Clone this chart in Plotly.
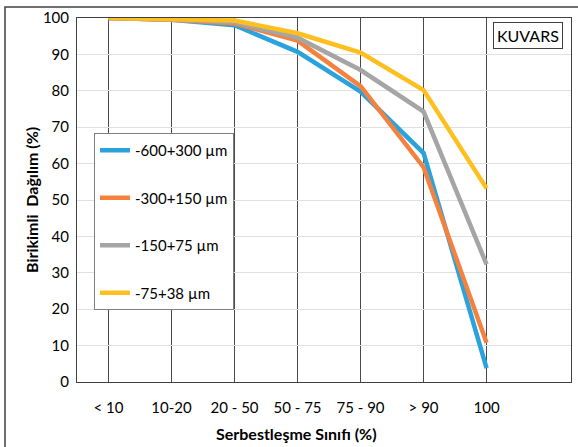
import plotly.graph_objects as go

categories = ["< 10", "10-20", "20 - 50", "50 - 75", "75 - 90", "> 90", "100"]
s1_name = "-600+300 µm"
s1 = [100, 99.5, 98.0, 90.7, 79.8, 62.9, 3.8]
s2_name = "-300+150 µm"
s2 = [100, 99.5, 98.5, 93.8, 81.3, 59.0, 10.8]
s3_name = "-150+75 µm"
s3 = [100, 99.6, 98.8, 94.6, 85.7, 74.3, 32.3]
s4_name = "-75+38 µm"
s4 = [100, 99.8, 99.3, 95.8, 90.5, 80.2, 53.2]
colors = ["#2aa3dc", "#f5813f", "#a5a5a5", "#ffbf1f"]
yticks = [0, 10, 20, 30, 40, 50, 60, 70, 80, 90, 100]

FONT = "Lato"
fig = go.Figure()
for i, (name, vals) in enumerate([(s1_name, s1), (s2_name, s2), (s3_name, s3), (s4_name, s4)]):
    fig.add_trace(go.Scatter(x=categories, y=vals, mode="lines", name=name,
                             legendgroup=str(i),
                             line=dict(color=colors[i], width=4.5)))

L, R, T, B = 77, 7, 18, 65
W, H = 578, 447
pw, ph = W - L - R, H - T - B

def px(x):
    return (x - L) / pw

def py(y):
    return (H - B - y) / ph

fig.update_layout(
    width=W, height=H,
    margin=dict(l=L, r=R, t=T, b=B, autoexpand=False),
    paper_bgcolor="white", plot_bgcolor="white",
    font=dict(family=FONT, size=14, color="black"),
    showlegend=True,
    legend=dict(x=px(94), y=py(133), xanchor="left", yanchor="top",
                bgcolor="white", bordercolor="#7f7f7f", borderwidth=1,
                font=dict(family=FONT, size=15), tracegroupgap=25,
                itemwidth=30),
    xaxis=dict(type="category", range=[-0.5, 7.34], showgrid=True, gridcolor="#4a4a4a",
               gridwidth=1, showline=True, linecolor="#404040", linewidth=1, mirror=True,
               ticks="", tickfont=dict(family=FONT, size=15), automargin=False,
               ticklabelstandoff=12),
    yaxis=dict(range=[0, 100], tickvals=yticks, showgrid=True, gridcolor="#e0e0e0",
               showline=True, linecolor="#404040", linewidth=1, mirror=True,
               ticks="", ticklen=0, tickfont=dict(family=FONT, size=15),
               zeroline=False, automargin=False, ticklabelstandoff=4),
    shapes=[dict(type="rect", xref="paper", yref="paper",
                 x0=px(5), x1=px(W + 5), y0=py(H + 10), y1=py(7),
                 line=dict(color="#404040", width=1.5), fillcolor="rgba(0,0,0,0)", layer="below")],
    annotations=[
        dict(text="KUVARS", xref="paper", yref="paper",
             x=px(493), y=py(22), xanchor="left", yanchor="top",
             showarrow=False, font=dict(family=FONT, size=16),
             bordercolor="#404040", borderwidth=1, borderpad=3, bgcolor="white"),
        dict(text="<b>Serbestleşme Sınıfı (%)</b>", xref="paper", yref="paper",
             x=px(296), y=py(433), xanchor="center", yanchor="middle",
             showarrow=False, font=dict(family=FONT, size=16)),
        dict(text="<b>Birikimli  Dağılım (%)</b>", xref="paper", yref="paper",
             x=px(31), y=py(200), xanchor="center", yanchor="middle", textangle=-90,
             showarrow=False, font=dict(family=FONT, size=16)),
    ],
)

fig.write_html("out.html", config={"displayModeBar": False},
               post_script="document.body.style.margin='0';document.body.style.overflow='hidden';")
